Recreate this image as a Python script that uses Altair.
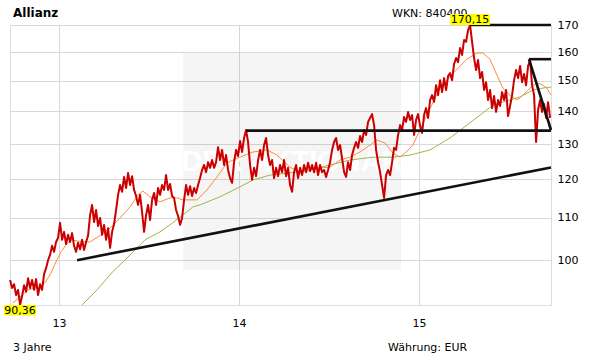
import altair as alt
import numpy as np
import pandas as pd

# ---- Allianz closing prices (EUR), sampled every ~4 days, 24.09.2012 - 24.09.2015
price = [
    95.6, 93.9, 94.7, 92.4, 93.5, 90.36, 92.2, 94.5, 93.1, 96.0, 93.9, 95.6, 93.5, 95.8, 92.4, 94.7, 93.5, 96.9, 98.2, 100.0,
    101.2, 103.3, 101.9, 104.2, 105.2, 108.8, 104.7, 106.6, 103.7, 105.9, 104.2, 106.3, 103.3, 101.9, 104.0, 102.5, 104.7, 102.3, 104.2, 105.7,
    110.7, 113.3, 109.0, 112.0, 108.0, 110.0, 105.9, 108.3, 104.7, 107.5, 102.8, 106.6, 108.5, 112.0, 115.9, 118.5, 116.7, 120.7, 117.7, 121.8,
    118.5, 120.9, 117.2, 115.6, 113.3, 115.9, 111.5, 106.6, 110.7, 113.3, 109.5, 114.6, 116.4, 113.3, 117.7, 115.9, 118.5, 117.2, 121.2, 117.2,
    118.8, 115.6, 115.1, 112.0, 110.5, 108.3, 110.0, 114.6, 118.5, 115.9, 118.2, 115.6, 117.7, 116.4, 118.5, 120.4, 122.6, 124.0, 122.0, 124.8,
    123.2, 125.4, 123.2, 124.8, 129.1, 125.4, 128.3, 124.0, 126.8, 122.6, 120.4, 119.1, 124.8, 128.3, 126.5, 130.9, 127.7, 131.8, 134.2, 130.6,
    124.0, 119.9, 123.2, 120.9, 125.4, 128.3, 125.4, 129.7, 131.8, 126.8, 124.0, 125.4, 120.4, 123.2, 120.9, 124.0, 122.0, 125.4, 120.9, 123.2,
    118.5, 116.7, 122.0, 124.0, 120.4, 123.2, 121.2, 124.0, 122.0, 124.6, 122.3, 124.0, 122.0, 124.6, 121.2, 124.0, 122.0, 122.6, 120.7, 122.6,
    124.8, 128.3, 130.6, 131.8, 128.3, 129.7, 125.9, 122.0, 120.7, 124.8, 122.6, 126.8, 128.9, 130.6, 128.9, 132.4, 130.6, 134.2, 132.7, 136.7,
    137.9, 139.1, 135.7, 128.3, 124.8, 122.0, 118.5, 115.1, 121.2, 122.6, 121.2, 124.8, 128.9, 128.3, 132.7, 135.7, 134.2, 138.2, 136.7, 139.8,
    137.3, 138.8, 132.7, 137.3, 139.1, 135.4, 133.3, 138.8, 141.0, 137.9, 143.6, 145.2, 143.0, 148.5, 145.2, 150.2, 146.2, 150.9, 146.9, 151.6,
    152.6, 150.2, 155.8, 157.9, 156.5, 161.5, 159.0, 164.5, 163.8, 168.2, 170.15, 163.8, 157.9, 153.7, 157.2, 150.9, 153.0, 146.9, 149.5, 143.6,
    146.9, 141.0, 144.9, 139.8, 143.6, 141.7, 146.2, 143.6, 146.9, 138.5, 141.7, 145.2, 150.2, 153.7, 150.9, 155.1, 149.5, 152.3, 148.5, 155.1,
    157.2, 148.5, 145.2, 130.6, 140.4, 143.6, 139.8, 142.3, 137.9, 142.9, 137.9,
]
START_YEAR = 2012.728
END_YEAR = 2015.728

# ---- 38-day moving average (orange)
ma38_year = [2012.744, 2012.783, 2012.828, 2012.866, 2012.900, 2012.928, 2012.955, 2012.983, 2013.011, 2013.039,
             2013.066, 2013.105, 2013.144, 2013.172, 2013.228, 2013.283, 2013.339, 2013.394, 2013.439, 2013.466,
             2013.505, 2013.561, 2013.616, 2013.655, 2013.689, 2013.766, 2013.822, 2013.878, 2013.933, 2014.005,
             2014.078, 2014.155, 2014.211, 2014.283, 2014.339, 2014.394, 2014.450, 2014.505, 2014.561, 2014.616,
             2014.672, 2014.728, 2014.766, 2014.811, 2014.855, 2014.894, 2014.928, 2014.966, 2015.005, 2015.044,
             2015.116, 2015.189, 2015.266, 2015.322, 2015.355, 2015.394, 2015.433, 2015.466, 2015.505, 2015.544,
             2015.578, 2015.633, 2015.672, 2015.711, 2015.733]
ma38_val = [90.8, 92.0, 93.5, 93.9, 94.1, 95.4, 97.1, 99.6, 101.9, 103.5,
            104.7, 104.4, 104.2, 104.2, 105.7, 107.5, 110.0, 112.8, 115.9, 116.9,
            115.4, 114.1, 115.1, 115.1, 114.6, 114.6, 117.2, 120.7, 124.6, 126.2,
            127.7, 128.3, 126.8, 123.4, 122.0, 122.6, 123.2, 123.4, 125.4, 126.2,
            127.7, 129.7, 131.2, 130.3, 127.4, 126.2, 127.7, 129.7, 134.2, 138.8,
            147.5, 152.6, 157.5, 159.7, 159.7, 157.5, 151.9, 147.5, 145.2, 143.6,
            145.2, 148.5, 149.1, 147.5, 145.2]

# ---- 200-day moving average (olive green)
ma200_year = [2013.128, 2013.211, 2013.300, 2013.355, 2013.383, 2013.433, 2013.478, 2013.561, 2013.616, 2013.672,
              2013.744, 2013.783, 2013.894, 2014.005, 2014.078, 2014.172, 2014.283, 2014.394, 2014.505, 2014.616,
              2014.744, 2014.855, 2014.950, 2015.061, 2015.172, 2015.266, 2015.339, 2015.411, 2015.505, 2015.561,
              2015.633, 2015.711, 2015.733]
ma200_val = [90.36, 93.5, 97.5, 99.6, 100.7, 102.8, 104.7, 106.6, 108.3, 110.2,
             112.8, 113.3, 115.4, 118.0, 119.9, 121.2, 121.8, 122.6, 124.0, 125.4,
             126.2, 126.2, 126.8, 128.3, 131.8, 135.7, 138.8, 142.0, 143.6, 144.6,
             146.9, 147.8, 147.8]

# ---- trend lines (segment id, year, price)
trend_id = ["support", "support", "resist", "resist", "top", "top", "high2", "high2", "down", "down"]
trend_year = [2013.100, 2015.733, 2014.039, 2015.733, 2015.283, 2015.733, 2015.611, 2015.733, 2015.611, 2015.733]
trend_price = [100.0, 123.3, 134.0, 134.0, 170.15, 170.15, 157.5, 157.5, 157.5, 134.2]

# ---- shaded watermark box (year range, price range)
box_year = [2013.689, 2014.900]
box_price = [97.8, 159.7]

x_ticks = [2013, 2014, 2015]
y_ticks = [100, 110, 120, 130, 140, 150, 160, 170]

FONT = "DejaVu Sans"

df_price = pd.DataFrame({"year": np.linspace(START_YEAR, END_YEAR, len(price)), "price": price})
df_ma38 = pd.DataFrame({"year": ma38_year, "price": ma38_val})
df_ma200 = pd.DataFrame({"year": ma200_year, "price": ma200_val})
df_trend = pd.DataFrame({"id": trend_id, "year": trend_year, "price": trend_price})
df_box = pd.DataFrame({"year": [box_year[0]], "year2": [box_year[1]],
                       "price": [box_price[0]], "price2": [box_price[1]]})

imax = int(np.argmax(price))
imin = int(np.argmin(price))
fmt = lambda v: f"{v:.2f}".replace(".", ",")
df_max = pd.DataFrame({"year": [df_price.year[imax]], "price": [price[imax]], "label": [fmt(price[imax])]})
df_min = pd.DataFrame({"year": [df_price.year[imin]], "price": [price[imin]], "label": [fmt(price[imin])]})

x_scale = alt.Scale(domain=[2012.7276, 2015.7331], nice=False, zero=False)
y_scale = alt.Scale(type="log", domain=[90.36, 170.15], nice=False)

x_axis = alt.Axis(values=x_ticks, labelExpr="substring(toString(datum.value), 2, 4)",
                  grid=True, ticks=False, domain=False, labelPadding=12, title=None,
                  labelFont=FONT, labelFontSize=11, labelColor="#000000",
                  gridColor="#d8d8d8", labelAlign="center")
y_axis = alt.Axis(orient="right", values=y_ticks, format="d", grid=True, ticks=False,
                  domain=False, labelPadding=6, title=None, labelFont=FONT,
                  labelFontSize=11, labelColor="#000000", gridColor="#d8d8d8")

X = alt.X("year:Q", scale=x_scale, axis=x_axis)
Y = alt.Y("price:Q", scale=y_scale, axis=y_axis)

box = alt.Chart(df_box).mark_rect(color="#000000", opacity=0.04).encode(
    x=X, x2="year2", y=Y, y2="price2")

watermark = alt.Chart(pd.DataFrame({"t": ["DER AKTIONÄR"]})).mark_text(
    font="Liberation Sans", fontSize=29, fontWeight="bold", color="#ffffff",
    align="center", baseline="middle").encode(x=alt.value(282), y=alt.value(137), text="t")

ma200 = alt.Chart(df_ma200).mark_line(color="#9ab84a", strokeWidth=1).encode(x=X, y=Y)
ma38 = alt.Chart(df_ma38).mark_line(color="#ff8a3d", strokeWidth=1).encode(x=X, y=Y)
red = alt.Chart(df_price).mark_line(color="#cc0000", strokeWidth=2, strokeJoin="round").encode(x=X, y=Y)
trend = alt.Chart(df_trend).mark_line(color="#111111", strokeWidth=2.6).encode(x=X, y=Y, detail="id:N")

max_box = alt.Chart(df_max).mark_point(shape="M-1,-0.55H1V0H-1Z", size=1600, filled=True,
                                       color="#ffff00", opacity=1, strokeWidth=0).encode(x=X, y=Y)
max_txt = alt.Chart(df_max).mark_text(font=FONT, fontSize=11, color="#000000", align="center",
                                      baseline="middle", dy=-5).encode(x=X, y=Y, text="label:N")
min_box = alt.Chart(df_min).mark_point(shape="M-0.8,0H0.8V0.52H-0.8Z", size=1600, filled=True,
                                       color="#ffff00", opacity=1, strokeWidth=0).encode(x=X, y=Y)
min_txt = alt.Chart(df_min).mark_text(font=FONT, fontSize=11, color="#000000", align="center",
                                      baseline="middle", dy=6).encode(x=X, y=Y, text="label:N")


def label(txt, x, y, size=11, weight="normal"):
    return alt.Chart(pd.DataFrame({"t": [txt]})).mark_text(
        font=FONT, fontSize=size, fontWeight=weight, color="#000000",
        align="left", baseline="alphabetic").encode(x=alt.value(x), y=alt.value(y), text="t")


wkn = label("WKN: 840400", 382, -8)
title = label("Allianz", 3, -8, size=12, weight="bold")
span = label("3 Jahre", 3, 326)
cur = label("Währung: EUR", 378, 326)

chart = alt.layer(
    box, watermark, ma200, ma38, red, trend, wkn, max_box, max_txt, min_box, min_txt, title, span, cur
).properties(
    width=541, height=280,
    padding={"left": 10, "top": 25, "right": 60, "bottom": 59},
    autosize=alt.AutoSizeParams(type="none"),
).configure_view(stroke="#d4d4d4", strokeWidth=1).configure(background="#ffffff")

chart.save("out.html", embed_options={"renderer": "svg", "actions": False})
